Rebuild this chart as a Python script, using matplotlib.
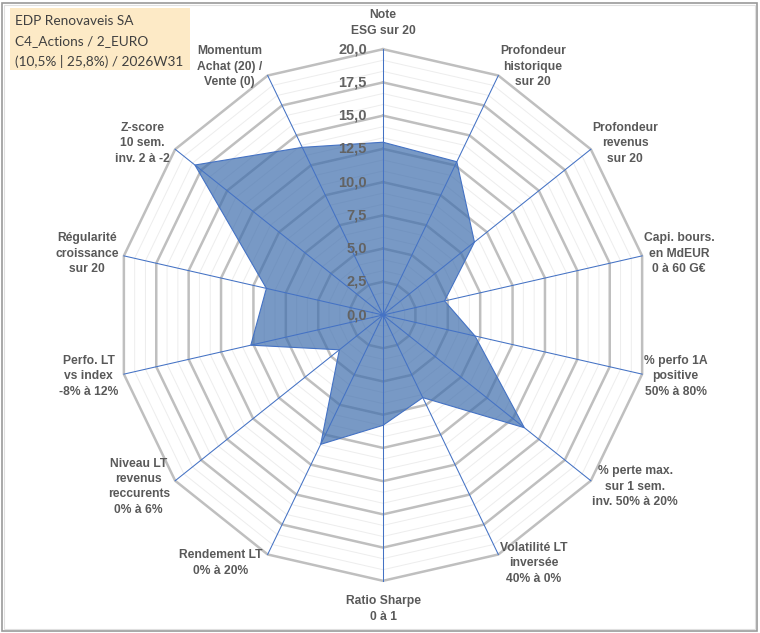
import numpy as np
import matplotlib
matplotlib.use("Agg")
import matplotlib.pyplot as plt
from matplotlib.patches import Rectangle, Polygon

# axes labels, clockwise from top
labels = [
    "Note\nESG sur 20",
    "Profondeur\nhistorique\nsur 20",
    "Profondeur\nrevenus\nsur 20",
    "Capi. bours.\nen MdEUR\n0 à 60 G€",
    "% perfo 1A\npositive\n50% à 80%",
    "% perte max.\nsur 1 sem.\ninv. 50% à 20%",
    "Volatilité LT\ninversée\n40% à 0%",
    "Ratio Sharpe\n0 à 1",
    "Rendement LT\n0% à 20%",
    "Niveau LT\nrevenus\nreccurents\n0% à 6%",
    "Perfo. LT\nvs index\n-8% à 12%",
    "Régularité\ncroissance\nsur 20",
    "Z-score\n10 sem.\ninv. 2 à -2",
    "Momentum\nAchat (20) /\nVente (0)",
]
scores = [13.0, 12.8, 8.8, 4.75, 7.1, 13.6, 6.9, 8.3, 10.8, 4.2, 10.2, 9.0, 18.1, 14.0]
tick_values = [0.0, 2.5, 5.0, 7.5, 10.0, 12.5, 15.0, 17.5, 20.0]
title_lines = ["EDP Renovaveis SA", "C4_Actions / 2_EURO", "(10,5% | 25,8%) / 2026W31"]

rmax = 20.0
px = 13.29  # pixels per unit
cx, cy = 383, 318  # centre in pixels from left / bottom
W, H = 760, 633

fig = plt.figure(figsize=(W / 100, H / 100), dpi=100)
ax = fig.add_axes([0, 0, 1, 1])
ax.set_xlim(-cx / px, (W - cx) / px)
ax.set_ylim(-cy / px, (H - cy) / px)
ax.axis("off")

n = len(labels)
theta = np.arange(n) * 2 * np.pi / n
sx, sy = np.sin(theta), np.cos(theta)

# rings: major every 2.5, two minor in between
for k in range(1, 25):
    r = k * 2.5 / 3
    xs = np.append(r * sx, r * sx[0])
    ys = np.append(r * sy, r * sy[0])
    if k % 3 == 0:
        ax.plot(xs, ys, color="#BFBFBF", lw=1.8, zorder=1)
    else:
        ax.plot(xs, ys, color="#EDEDED", lw=0.7, zorder=1)

# data polygon
pts = np.column_stack([np.array(scores) * sx, np.array(scores) * sy])
ax.add_patch(Polygon(pts, closed=True, facecolor="#3F6EAD", alpha=0.7,
                     edgecolor="none", zorder=2))
ax.add_patch(Polygon(pts, closed=True, facecolor="none", edgecolor="#4472C4",
                     lw=0.8, zorder=3))

# spokes
for i in range(n):
    ax.plot([0, rmax * sx[i]], [0, rmax * sy[i]], color="#4472C4", lw=0.75, zorder=3)

# radial tick labels
for v in tick_values:
    ax.text(-16 / px, v, f"{v:.1f}".replace(".", ","), ha="right", va="center",
            fontsize=10.5, fontweight="bold", color="#636363",
            family="Liberation Sans", zorder=4)

# category labels
for i, lab in enumerate(labels):
    tx, ty = rmax * sx[i], rmax * sy[i]
    kw = dict(fontsize=8.7, fontweight="bold", color="#595959",
              family="Liberation Sans", multialignment="center",
              linespacing=1.38, zorder=4)
    if abs(sx[i]) < 0.1:
        if sy[i] > 0:
            ax.text(tx, ty + 0.95, lab, ha="center", va="bottom", **kw)
        else:
            ax.text(tx, ty - 1.1, lab, ha="center", va="top", **kw)
    elif sx[i] > 0:
        ax.text(tx + 0.12, ty + 0.72 * sy[i], lab, ha="left", va="center", **kw)
    else:
        ax.text(tx - 0.4, ty + 0.72 * sy[i], lab, ha="right", va="center", **kw)

# title box
fig.patches.append(Rectangle((10 / W, 1 - 70 / H), 180 / W, 62 / H,
                             transform=fig.transFigure, facecolor="#FDEAC6",
                             edgecolor="none", zorder=0))
for j, line in enumerate(title_lines):
    fig.text(15 / W, 1 - (21 + 20 * j) / H, line, ha="left", va="center",
             fontsize=9.8, color="#404040", family="Lato")

# chart border
fig.patches.append(Rectangle((2 / W, 2 / H), (W - 5) / W, (H - 5) / H,
                             transform=fig.transFigure, facecolor="none",
                             edgecolor="#9A9A9A", lw=1.2))
fig.patches.append(Rectangle((4 / W, 4 / H), (W - 9) / W, (H - 9) / H,
                             transform=fig.transFigure, facecolor="none",
                             edgecolor="#E0E0E0", lw=0.8))

fig.savefig("out.png", dpi=100)
